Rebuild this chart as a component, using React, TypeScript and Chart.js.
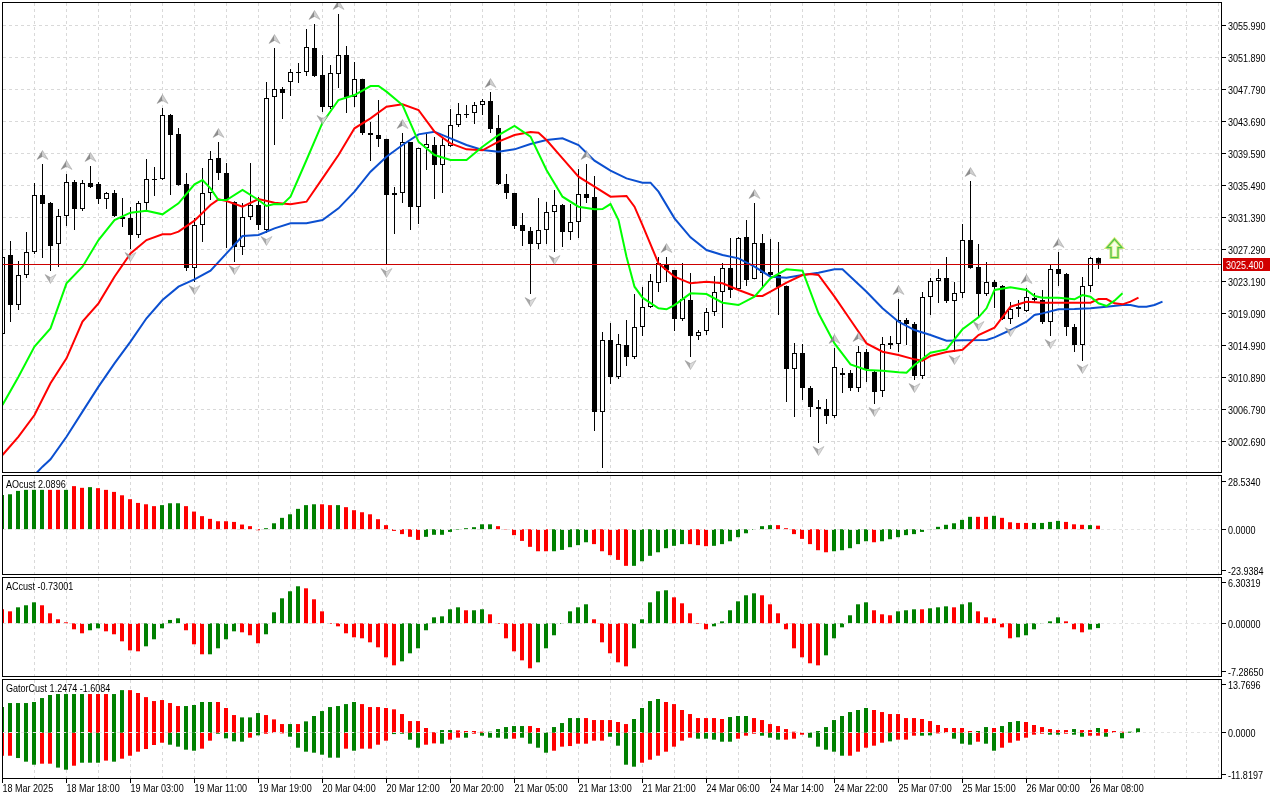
import React, { useEffect, useRef } from "react";
import { Chart, registerables } from "chart.js";

Chart.register(...registerables);

// ---------------- DATA ----------------
const timeLabels = [
  "18 Mar 2025", "18 Mar 18:00", "19 Mar 03:00", "19 Mar 11:00", "19 Mar 19:00", "20 Mar 04:00",
  "20 Mar 12:00", "20 Mar 20:00", "21 Mar 05:00", "21 Mar 13:00", "21 Mar 21:00", "24 Mar 06:00",
  "24 Mar 14:00", "24 Mar 22:00", "25 Mar 07:00", "25 Mar 15:00", "26 Mar 00:00", "26 Mar 08:00",
];
const timeLabelStep = 8;

const priceTicks = [3055.99, 3051.89, 3047.79, 3043.69, 3039.59, 3035.49, 3031.39, 3027.29, 3023.19, 3019.09, 3014.99, 3010.89, 3006.79, 3002.69];
const lastPrice = 3025.4;

const opens = [
  3016.40, 3026.52, 3020.11, 3023.96, 3026.90, 3034.21, 3033.18, 3027.93, 3031.52, 3035.87,
  3032.41, 3035.74, 3035.62, 3033.69, 3034.46, 3031.39, 3031.26, 3029.08, 3033.18, 3036.26,
  3036.26, 3044.46, 3042.02, 3035.62, 3024.85, 3030.36, 3034.46, 3038.95, 3037.03, 3033.31,
  3027.54, 3031.39, 3032.93, 3029.72, 3046.76, 3047.79, 3048.68, 3049.85, 3049.97, 3053.04,
  3049.58, 3045.48, 3049.71, 3052.14, 3046.76, 3049.07, 3042.15, 3041.89, 3041.38, 3034.21,
  3034.46, 3041.00, 3032.67, 3040.23, 3040.61, 3038.05, 3040.49, 3043.18, 3044.46, 3044.71,
  3045.74, 3046.25, 3042.79, 3035.62, 3034.46, 3030.36, 3029.59, 3027.93, 3029.72, 3032.03,
  3032.93, 3029.47, 3030.75, 3034.34, 3033.95, 3006.40, 3015.63, 3010.89, 3014.99, 3013.45,
  3017.30, 3019.86, 3022.93, 3025.37, 3024.60, 3018.32, 3020.75, 3016.14, 3016.78, 3019.22,
  3021.78, 3024.85, 3022.16, 3028.83, 3023.45, 3028.06, 3024.34, 3023.96, 3022.55, 3011.91,
  3013.96, 3009.48, 3007.05, 3006.79, 3005.89, 3011.40, 3011.40, 3009.48, 3014.09, 3011.53,
  3009.10, 3015.25, 3015.12, 3018.19, 3017.68, 3011.02, 3021.14, 3023.19, 3023.57, 3020.63,
  3021.65, 3028.44, 3024.98, 3021.52, 3023.06, 3022.55, 3018.32, 3019.60, 3019.35, 3021.01,
  3020.75, 3017.94, 3024.73, 3024.09, 3017.30, 3014.99, 3022.55, 3026.14,
];
const highs = [
  3026.78, 3028.31, 3025.75, 3029.47, 3035.74, 3038.18, 3033.30, 3032.41, 3036.90, 3036.13,
  3036.13, 3037.92, 3035.87, 3034.59, 3034.85, 3033.82, 3032.67, 3033.44, 3038.82, 3037.79,
  3045.35, 3044.58, 3042.79, 3037.03, 3031.26, 3037.67, 3039.84, 3041.00, 3038.31, 3033.40,
  3033.18, 3038.31, 3033.95, 3048.68, 3053.04, 3048.04, 3050.35, 3051.12, 3055.47, 3056.12,
  3052.14, 3050.86, 3057.40, 3053.30, 3051.25, 3049.10, 3043.56, 3046.38, 3041.40, 3035.23,
  3042.15, 3041.00, 3040.25, 3042.15, 3041.64, 3041.51, 3045.22, 3045.99, 3045.74, 3046.12,
  3046.51, 3047.40, 3044.46, 3036.90, 3034.50, 3031.90, 3030.11, 3033.82, 3033.31, 3034.85,
  3033.05, 3033.05, 3037.54, 3038.18, 3036.64, 3016.65, 3017.81, 3016.40, 3018.19, 3021.52,
  3022.42, 3024.09, 3026.26, 3026.26, 3024.60, 3025.49, 3024.21, 3016.91, 3019.73, 3023.83,
  3025.49, 3028.70, 3028.83, 3031.00, 3033.18, 3029.21, 3028.57, 3028.19, 3022.60, 3015.25,
  3015.12, 3009.73, 3007.94, 3008.07, 3014.60, 3012.04, 3011.78, 3014.86, 3014.47, 3011.66,
  3016.01, 3016.14, 3020.88, 3018.45, 3017.94, 3021.78, 3023.57, 3024.73, 3026.26, 3023.06,
  3030.49, 3036.00, 3027.93, 3025.62, 3023.32, 3022.68, 3020.50, 3020.75, 3022.29, 3021.65,
  3022.04, 3025.24, 3026.90, 3024.21, 3017.68, 3023.70, 3026.26, 3026.20,
];
const lows = [
  3016.01, 3017.94, 3019.47, 3023.57, 3026.65, 3026.14, 3024.47, 3024.98, 3030.23, 3029.72,
  3032.16, 3035.10, 3033.05, 3032.41, 3031.39, 3030.11, 3027.29, 3028.70, 3032.29, 3034.08,
  3036.13, 3034.21, 3035.40, 3024.47, 3023.06, 3028.19, 3033.57, 3036.13, 3027.42, 3025.62,
  3026.52, 3031.00, 3029.72, 3029.34, 3040.61, 3043.94, 3046.89, 3048.56, 3049.45, 3049.32,
  3044.84, 3045.22, 3047.92, 3044.71, 3045.48, 3041.89, 3038.56, 3040.36, 3025.24, 3029.21,
  3033.18, 3029.72, 3030.49, 3037.41, 3033.69, 3034.46, 3040.36, 3042.92, 3044.07, 3043.30,
  3044.46, 3042.15, 3035.49, 3033.69, 3029.85, 3027.67, 3021.52, 3027.29, 3027.93, 3026.90,
  3027.54, 3028.44, 3028.70, 3033.18, 3003.97, 2999.23, 3009.99, 3010.63, 3012.30, 3013.19,
  3016.14, 3019.73, 3021.78, 3023.06, 3016.78, 3018.07, 3013.45, 3015.63, 3016.27, 3018.70,
  3017.17, 3021.01, 3022.04, 3022.55, 3023.40, 3022.29, 3023.57, 3018.83, 3007.69, 3005.76,
  3007.94, 3005.76, 3002.43, 3004.87, 3005.63, 3008.84, 3009.10, 3008.97, 3010.25, 3007.43,
  3008.33, 3014.47, 3014.09, 3014.99, 3010.50, 3010.63, 3018.83, 3020.37, 3020.37, 3014.09,
  3021.01, 3024.75, 3018.45, 3021.27, 3019.73, 3018.19, 3017.68, 3018.58, 3019.22, 3020.37,
  3017.68, 3016.14, 3022.55, 3016.14, 3014.09, 3012.94, 3021.78, 3024.73,
];
const closes = [
  3026.26, 3020.11, 3023.96, 3026.90, 3034.21, 3033.05, 3027.67, 3031.52, 3035.87, 3032.41,
  3035.74, 3035.23, 3033.69, 3034.46, 3031.52, 3031.13, 3029.08, 3033.18, 3036.26, 3036.13,
  3044.46, 3041.89, 3035.49, 3024.85, 3030.36, 3034.46, 3038.82, 3037.03, 3033.69, 3027.54,
  3031.39, 3032.93, 3030.36, 3046.63, 3047.79, 3047.27, 3049.97, 3049.97, 3053.17, 3049.45,
  3045.48, 3049.84, 3052.14, 3046.76, 3049.07, 3042.15, 3041.89, 3041.38, 3034.21, 3034.46,
  3041.00, 3032.67, 3040.23, 3040.74, 3038.05, 3040.61, 3043.18, 3044.58, 3044.58, 3045.74,
  3046.25, 3042.66, 3035.62, 3034.46, 3030.23, 3029.59, 3027.93, 3029.72, 3032.03, 3032.93,
  3029.47, 3030.75, 3034.34, 3033.82, 3006.40, 3015.63, 3010.89, 3015.12, 3013.45, 3017.30,
  3019.86, 3023.19, 3025.49, 3024.60, 3018.32, 3020.88, 3016.14, 3016.65, 3019.22, 3021.78,
  3024.85, 3022.04, 3028.70, 3023.32, 3028.06, 3024.21, 3023.96, 3022.42, 3011.91, 3013.96,
  3009.48, 3007.05, 3006.79, 3005.89, 3012.17, 3011.14, 3009.48, 3014.09, 3011.91, 3008.97,
  3015.12, 3014.99, 3018.19, 3017.68, 3011.02, 3021.14, 3023.19, 3023.57, 3020.63, 3021.65,
  3028.44, 3024.85, 3021.52, 3023.06, 3022.42, 3018.32, 3019.60, 3019.86, 3021.14, 3020.75,
  3017.94, 3024.73, 3024.09, 3017.30, 3014.99, 3022.55, 3026.14, 3025.40,
];

// Alligator lines: [bar index (shifted), price]
const lipsPoints = [
  [0, 3007.30], [2, 3010.93], [4, 3014.78], [6, 3017.12], [8, 3022.89], [10, 3025.02], [12, 3028.44], [14, 3031.00],
  [16, 3031.94], [18, 3032.20], [20, 3031.73], [22, 3033.14], [24, 3035.57], [25, 3036.13], [26, 3035.06], [27, 3033.57],
  [28, 3033.57], [30, 3034.85], [32, 3033.57], [33, 3032.80], [34, 3033.05], [35, 3033.01], [36, 3033.99], [38, 3038.69],
  [40, 3043.47], [42, 3046.38], [44, 3047.02], [46, 3048.17], [47, 3048.17], [48, 3047.45], [50, 3045.74], [52, 3041.04],
  [54, 3039.33], [56, 3038.69], [58, 3038.69], [60, 3040.40], [62, 3041.89], [64, 3043.05], [66, 3041.68], [68, 3037.41],
  [70, 3033.99], [72, 3032.71], [74, 3032.37], [75, 3032.41], [76, 3033.05], [77, 3031.00], [78, 3026.31], [79, 3022.46],
  [80, 3021.05], [82, 3019.69], [83, 3019.56], [84, 3020.11], [86, 3021.61], [88, 3021.52], [90, 3020.41], [92, 3020.11],
  [94, 3021.18], [96, 3023.53], [98, 3024.68], [100, 3024.51], [102, 3019.05], [104, 3015.20], [106, 3012.51], [108, 3011.79],
  [110, 3011.70], [112, 3011.49], [113, 3011.44], [114, 3012.43], [116, 3014.01], [118, 3014.43], [120, 3017.00], [122, 3018.53],
  [123, 3019.69], [124, 3022.04], [126, 3022.38], [128, 3022.04], [129, 3021.27], [130, 3021.05], [132, 3021.05], [134, 3020.84],
  [135, 3021.39], [136, 3021.18], [137, 3020.33], [138, 3019.99], [139, 3020.67], [140, 3021.61],
];
const teethPoints = [
  [0, 3000.90], [2, 3003.24], [4, 3006.02], [6, 3010.08], [8, 3013.28], [10, 3017.98], [12, 3020.33], [14, 3023.74],
  [16, 3026.73], [18, 3028.44], [20, 3029.17], [21, 3029.17], [22, 3029.51], [24, 3030.92], [26, 3032.93], [27, 3033.65],
  [28, 3033.44], [30, 3032.71], [32, 3033.69], [34, 3033.22], [36, 3033.01], [38, 3033.35], [40, 3036.34], [42, 3039.33],
  [44, 3042.75], [46, 3044.03], [48, 3045.52], [50, 3045.82], [52, 3045.10], [54, 3042.32], [56, 3040.83], [58, 3040.06],
  [60, 3039.93], [62, 3041.04], [64, 3041.89], [66, 3042.28], [67, 3042.19], [68, 3041.25], [70, 3038.90], [72, 3036.56],
  [74, 3035.27], [76, 3033.99], [78, 3034.08], [79, 3032.71], [80, 3030.36], [82, 3025.45], [84, 3023.74], [86, 3022.89],
  [88, 3023.10], [90, 3022.89], [92, 3022.04], [94, 3021.27], [95, 3021.27], [96, 3021.82], [98, 3022.97], [100, 3023.96],
  [101, 3024.09], [102, 3023.96], [104, 3021.18], [106, 3018.19], [108, 3015.20], [110, 3014.13], [112, 3013.71], [114, 3013.15],
  [115, 3012.98], [116, 3013.58], [118, 3014.09], [120, 3014.39], [122, 3016.27], [124, 3017.21], [126, 3019.90], [128, 3020.54],
  [130, 3020.41], [136, 3020.41], [137, 3020.88], [138, 3020.88], [139, 3020.33], [140, 3020.20], [141, 3020.54], [142, 3021.05],
];
const jawPoints = [
  [4, 2998.33], [5, 2999.40], [6, 3000.34], [8, 3003.24], [10, 3006.45], [12, 3009.65], [14, 3012.64], [16, 3015.42],
  [18, 3018.41], [20, 3020.75], [22, 3022.46], [24, 3023.40], [26, 3024.51], [28, 3026.73], [30, 3028.95], [32, 3029.08],
  [34, 3029.94], [36, 3030.58], [38, 3030.58], [40, 3031.00], [42, 3032.50], [44, 3034.63], [46, 3037.20], [48, 3039.12],
  [50, 3040.61], [52, 3041.98], [54, 3042.32], [56, 3041.47], [58, 3040.61], [60, 3039.97], [62, 3039.76], [64, 3040.06],
  [66, 3040.74], [68, 3041.25], [70, 3041.47], [72, 3040.61], [74, 3038.61], [76, 3037.32], [78, 3036.34], [80, 3035.79],
  [81, 3035.79], [82, 3034.63], [84, 3031.22], [86, 3028.78], [88, 3027.16], [90, 3026.52], [92, 3026.09], [94, 3025.02],
  [96, 3023.74], [98, 3023.62], [100, 3023.96], [102, 3024.26], [104, 3024.68], [105, 3024.68], [106, 3023.74], [108, 3021.82],
  [110, 3019.69], [112, 3017.98], [114, 3016.91], [116, 3016.27], [118, 3015.54], [120, 3015.59], [123, 3015.63], [124, 3015.97],
  [126, 3016.91], [128, 3017.98], [129, 3018.83], [130, 3019.04], [132, 3019.56], [134, 3019.60], [136, 3019.69], [138, 3019.90],
  [140, 3020.11], [141, 3020.11], [142, 3019.90], [143, 3019.90], [144, 3020.11], [145, 3020.54],
];

const fractalUpBars = [5, 8, 11, 20, 27, 34, 39, 42, 50, 61, 73, 83, 94, 104, 107, 112, 121, 128, 132];
const fractalDownBars = [6, 16, 24, 29, 33, 40, 48, 66, 69, 75, 86, 102, 109, 114, 119, 122, 126, 131, 135];
const signalArrow = { bar: 139, price: 3027.35 };

const aoTitle = "AOcust 2.0896";
const aoTicks = [28.534, 0, -23.9384];
const aoValues = [
  20.2, 20.6, 22.6, 23.2, 23.2, 23.2, 23.2, 23.2, 23.2, 25.4,
  24.4, 24.8, 24.2, 23.2, 22.0, 20.0, 17.7, 15.5, 14.7, 13.6,
  14.2, 15.3, 15.3, 13.6, 10.4, 7.7, 6.1, 4.7, 4.7, 4.3,
  2.75, 1.8, -0.6, 0.6, 3.5, 6.7, 8.8, 12.0, 14.2, 14.7,
  14.7, 14.2, 14.2, 13.0, 11.2, 10.0, 8.8, 5.9, 2.4, -1.0,
  -2.9, -4.5, -6.3, -4.5, -3.3, -3.3, -1.6, -0.3, 0.6, 1.2,
  2.9, 2.9, 1.8, -0.2, -3.5, -6.9, -10.4, -13.0, -13.0, -13.0,
  -12.2, -10.6, -9.4, -7.7, -8.8, -13.0, -15.3, -18.1, -21.6, -21.6,
  -18.9, -15.7, -13.6, -11.2, -9.8, -8.8, -8.8, -9.4, -10.0, -9.8,
  -8.8, -7.1, -4.7, -2.4, -0.4, 1.8, 2.4, 2.4, 0.6, -2.9,
  -5.7, -8.8, -12.4, -13.6, -13.0, -12.4, -11.2, -8.8, -7.1, -7.7,
  -7.1, -5.9, -4.7, -3.5, -2.9, -1.6, -0.2, 1.4, 2.6, 3.5,
  5.5, 7.3, 7.3, 7.3, 7.9, 6.7, 4.1, 3.7, 3.7, 3.7,
  3.7, 4.3, 4.9, 4.3, 2.9, 2.6, 2.4, 2.09,
];
const aoColors = "ggggggrrgr" + "rgrrrrrrrr" + "gggrrrrrrr" + "rrrggggggg" + "rrgrrrrrrr" + "rrrggggggg" + "ggrrrrrrrg" +
  "ggggrrrrrg" + "ggggggrrrg" + "gggggggrrr" + "rrrrgggggr" + "gggggggggg" + "ggrrgrrrrg" + "gggrrrgr";

const acTitle = "ACcust -0.73001";
const acTicks = [6.30319, 0, -7.2865];
const acValues = [
  2.13, 1.82, 2.43, 2.74, 3.19, 2.74, 1.52, 0.61, 0.15, -0.91,
  -1.52, -1.06, -0.76, -1.22, -1.67, -2.74, -4.11, -4.26, -3.50, -2.43,
  -0.76, 0.51, 0.76, -1.06, -3.19, -4.71, -4.71, -3.80, -2.43, -1.22,
  -1.37, -1.82, -3.04, -1.67, 1.67, 3.80, 4.87, 5.63, 5.32, 3.65,
  1.82, -0.1, -0.46, -1.52, -2.13, -2.28, -2.89, -3.65, -5.17, -6.39,
  -5.78, -4.56, -3.80, -1.06, 0.91, 1.06, 2.13, 2.43, 1.98, 1.98,
  2.13, 1.37, -0.1, -2.28, -4.26, -5.63, -6.84, -5.93, -3.80, -1.82,
  -0.1, 1.82, 2.43, 2.89, 0.61, -2.89, -4.56, -5.93, -6.54, -3.80,
  0.61, 3.19, 4.87, 5.02, 3.95, 3.04, 1.52, -0.1, -0.91, -0.46,
  0.30, 1.98, 3.34, 4.26, 4.56, 4.26, 2.89, 1.52, -0.91, -3.80,
  -5.17, -6.08, -6.39, -4.87, -2.28, -0.61, 1.22, 2.89, 3.19, 1.98,
  1.37, 1.22, 1.82, 1.98, 2.13, 2.13, 2.28, 2.43, 2.58, 2.43,
  2.89, 3.19, 1.82, 0.91, 0.76, -0.61, -2.28, -2.13, -1.82, -0.91,
  0.05, 0.30, 0.91, 0.30, -0.91, -1.37, -0.95, -0.73,
];
const acColors = "rrgggrrrrr" + "rggrrrrrgg" + "gggrrrgggg" + "rrrgggggrr" + "rrrrrrrrrr" + "ggggggggrg" + "grrrrrrggg" +
  "ggggrrrrrg" + "ggggrrrrrg" + "gggggrrrrr" + "rrrggggggr" + "rrgggrgggr" + "ggrrrrrggg" + "gggrrrgg";

const gatorTitle = "GatorCust 1.2474 -1.6084";
const gatorTicks = [13.7696, 0, -11.8197];
const gatorUp = [
  7.35, 8.5, 8.5, 8.5, 8.8, 9.93, 10.8, 11.08, 11.08, 11.08,
  11.08, 11.08, 11.08, 11.08, 11.08, 12.2, 12.2, 11.37, 10.2, 9.07,
  9.36, 8.5, 7.64, 7.64, 7.93, 8.8, 8.8, 8.8, 7.07, 5.06,
  4.39, 4.39, 5.63, 5.06, 3.82, 2.48, 2.48, 2.48, 3.25, 4.78,
  6.2, 7.35, 7.64, 8.2, 8.8, 8.2, 7.35, 7.35, 7.07, 6.7,
  5.35, 3.34, 3.34, 1.34, 0.2, 0.76, 0.76, 0.67, 0.48, 0.48,
  0.29, 0.29, 1.05, 1.62, 1.91, 1.91, 1.91, 1.34, 0.1, 1.62,
  2.77, 4.2, 4.2, 4.2, 3.63, 3.63, 3.63, 3.06, 2.48, 3.92,
  7.07, 9.07, 9.65, 8.8, 8.2, 6.5, 5.35, 4.2, 4.2, 4.2,
  3.92, 4.49, 4.78, 4.78, 4.2, 3.63, 2.48, 1.91, 1.05, 0.29,
  0.05, 0.05, 0.48, 1.62, 3.63, 4.78, 5.92, 6.5, 7.07, 6.5,
  5.92, 5.35, 5.35, 4.2, 4.2, 3.92, 3.34, 2.2, 1.34, 1.34,
  1.34, 0.48, 0.48, 1.62, 1.34, 1.91, 3.06, 3.34, 3.06, 2.2,
  1.62, 1.05, 0.76, 0.76, 1.05, 0.76, 0.76, 1.34, 1.05, 0.48,
  0.29, 0.29, 1.2474,
];
const gatorUpColors = "gggggggggg" + "grrrggrrrr" + "rrrggggrrr" + "gggrrrgrgg" + "gggggrrrrr" + "rrrrrggrrr" + "rgggggrrgg" +
  "gggrrrrrrg" + "gggrrrrrrr" + "rgggrrrrrr" + "rggggggggr" + "rrrrrrrrrr" + "rrggrgggrr" + "rrrrgrrgrr" + "rgg";
const gatorDown = [
  -6.6, -6.6, -7.26, -8.3, -9.17, -8.88, -8.88, -10.0, -10.6, -9.46,
  -8.6, -8.6, -8.6, -8.0, -8.3, -7.45, -6.6, -5.44, -4.68, -3.53,
  -2.87, -3.44, -4.0, -4.87, -5.16, -4.58, -2.29, -0.3, -1.62, -2.48,
  -2.58, -1.43, -0.76, -0.3, -0.1, -0.2, -1.15, -4.3, -5.44, -5.73,
  -6.3, -7.16, -7.16, -4.58, -5.16, -4.58, -4.58, -3.44, -2.29, -0.4,
  -0.3, -2.0, -4.3, -3.44, -3.06, -3.15, -2.0, -1.43, -1.43, -0.29,
  -0.86, -1.43, -1.43, -1.72, -1.72, -1.43, -3.15, -4.3, -5.73, -5.16,
  -4.0, -3.82, -3.15, -3.15, -2.29, -2.29, -1.15, -3.72, -9.17, -9.74,
  -8.6, -7.74, -6.59, -5.44, -4.0, -2.29, -1.43, -1.72, -1.72, -2.0,
  -2.58, -2.58, -1.72, -0.86, -0.29, -0.86, -1.43, -2.0, -2.0, -1.72,
  -0.57, -1.43, -4.0, -4.87, -5.44, -6.59, -6.59, -5.44, -4.3, -3.72,
  -2.87, -2.48, -2.0, -2.0, -0.86, -0.86, -0.76, -0.2, -0.1, -1.72,
  -3.15, -3.44, -2.58, -3.15, -5.16, -4.3, -2.87, -2.29, -1.43, -0.57,
  -0.29, -0.57, -0.57, -0.29, -0.57, -1.15, -0.86, -0.86, -1.15, 0,
  -1.6084,
];
const gatorDownColors = "rrgggrrggr" + "gggrgrrrrr" + "rggggrrggg" + "grgrrrgggg" + "gggrgrrrrg" + "gggrrgrrgr" + "ggggrggggr" +
  "rrrrrrgggg" + "rrrrrrrggg" + "ggrrrgggrr" + "rgggggrrrr" + "rgrrrggrgg" + "ggrggrrrrr" + "rggrggrrgg" + "g";

// ---------------- STYLE ----------------
const GREEN = "#008000";
const RED = "#ff0000";
const GRID = "#d9d9d9";
const AXIS_W = 58;
const SLOTS = 152.5; // bar slots visible across the plot
const UI_FONT = '11px "Liberation Sans", Arimo, sans-serif';
const NARROW = 0.82; // horizontal squeeze to imitate the terminal's compact UI font

function text(ctx: CanvasRenderingContext2D, s: string, x: number, y: number) {
  ctx.save();
  ctx.font = UI_FONT;
  ctx.textAlign = "left";
  ctx.textBaseline = "alphabetic";
  ctx.translate(x, y);
  ctx.scale(NARROW, 1);
  ctx.fillText(s, 0, 0);
  ctx.restore();
}

const snap = (v: number) => Math.floor(v + 0.25) + 0.5;

function drawFrame(chart: any) {
  const { ctx, chartArea: ca } = chart;
  ctx.save();
  ctx.strokeStyle = "#000";
  ctx.lineWidth = 1;
  ctx.setLineDash([]);
  ctx.strokeRect(ca.left + 0.5, ca.top + 0.5, ca.right - ca.left - 1, ca.bottom - ca.top - 1);
  ctx.restore();
}

function drawVGrid(chart: any) {
  const { ctx, chartArea: ca, scales } = chart;
  const x = scales.x;
  ctx.save();
  ctx.strokeStyle = GRID;
  ctx.lineWidth = 1;
  ctx.setLineDash([3, 3]);
  ctx.beginPath();
  for (let i = 4; i <= 152; i += 4) {
    const px = snap(x.getPixelForValue(i));
    if (px > ca.right - 1) break;
    ctx.moveTo(px, ca.top + 1);
    ctx.lineTo(px, ca.bottom - 1);
  }
  ctx.stroke();
  ctx.restore();
}

function drawRightTicks(chart: any, ticks: number[], decimals: number) {
  const { ctx, chartArea: ca, scales } = chart;
  const y = scales.y;
  ctx.save();
  ctx.fillStyle = "#000";
  ctx.strokeStyle = "#000";
  ctx.lineWidth = 1;
  for (const t of ticks) {
    const py = snap(y.getPixelForValue(t));
    ctx.beginPath();
    ctx.moveTo(ca.right, py);
    ctx.lineTo(ca.right + 4, py);
    ctx.stroke();
    text(ctx, t.toFixed(decimals), ca.right + 6, py + 4);
  }
  ctx.restore();
}

function drawFractal(ctx: CanvasRenderingContext2D, cx: number, cy: number, up: boolean) {
  const s = up ? 1 : -1;
  const tip: [number, number] = [cx, cy - 4.5 * s];
  const left: [number, number] = [cx - 5.5, cy + 4.5 * s];
  const right: [number, number] = [cx + 5.5, cy + 4.5 * s];
  const notch: [number, number] = [cx, cy + 1.5 * s];
  ctx.beginPath();
  ctx.moveTo(...tip); ctx.lineTo(...notch); ctx.lineTo(...left); ctx.closePath();
  ctx.fillStyle = up ? "#8d8d8d" : "#a8a8a8";
  ctx.fill();
  ctx.beginPath();
  ctx.moveTo(...tip); ctx.lineTo(...right); ctx.lineTo(...notch); ctx.closePath();
  ctx.fillStyle = up ? "#cfcfcf" : "#dadada";
  ctx.fill();
  ctx.beginPath();
  ctx.moveTo(...tip); ctx.lineTo(...right); ctx.lineTo(...notch); ctx.lineTo(...left); ctx.closePath();
  ctx.strokeStyle = "rgba(120,120,120,0.55)";
  ctx.lineWidth = 0.6;
  ctx.stroke();
}

const mainPlugin = {
  id: "mainDeco",
  beforeDatasetsDraw(chart: any) {
    const { ctx, chartArea: ca, scales } = chart;
    drawVGrid(chart);
    ctx.save();
    ctx.strokeStyle = GRID;
    ctx.lineWidth = 1;
    ctx.setLineDash([3, 3]);
    ctx.beginPath();
    for (const p of priceTicks) {
      const py = snap(scales.y.getPixelForValue(p));
      ctx.moveTo(ca.left + 1, py);
      ctx.lineTo(ca.right - 1, py);
    }
    ctx.stroke();
    ctx.restore();
  },
  afterDatasetsDraw(chart: any) {
    const { ctx, chartArea: ca, scales } = chart;
    const { x, y } = scales;
    ctx.save();
    ctx.beginPath();
    ctx.rect(ca.left, ca.top, ca.right - ca.left, ca.bottom - ca.top);
    ctx.clip();
    const lp = snap(y.getPixelForValue(lastPrice));
    ctx.strokeStyle = "#cc0000";
    ctx.lineWidth = 1;
    ctx.beginPath();
    ctx.moveTo(ca.left, lp);
    ctx.lineTo(ca.right, lp);
    ctx.stroke();
    for (const i of fractalUpBars) {
      drawFractal(ctx, Math.floor(x.getPixelForValue(i)) + 0.5, y.getPixelForValue(highs[i]) - 9, true);
    }
    for (const i of fractalDownBars) {
      drawFractal(ctx, Math.floor(x.getPixelForValue(i)) + 0.5, y.getPixelForValue(lows[i]) + 8, false);
    }
    const cx = Math.floor(x.getPixelForValue(signalArrow.bar)) + 0.5;
    const cy = y.getPixelForValue(signalArrow.price);
    ctx.beginPath();
    ctx.moveTo(cx, cy - 9.5);
    ctx.lineTo(cx + 7.5, cy - 1);
    ctx.lineTo(cx + 3.5, cy - 1);
    ctx.lineTo(cx + 3.5, cy + 9);
    ctx.lineTo(cx - 3.5, cy + 9);
    ctx.lineTo(cx - 3.5, cy - 1);
    ctx.lineTo(cx - 7.5, cy - 1);
    ctx.closePath();
    ctx.fillStyle = "#f6ffe8";
    ctx.fill();
    ctx.strokeStyle = "#d8ec7a";
    ctx.lineWidth = 3;
    ctx.stroke();
    ctx.strokeStyle = "#4cc24c";
    ctx.lineWidth = 1.2;
    ctx.stroke();
    ctx.restore();
  },
  afterDraw(chart: any) {
    const { ctx, chartArea: ca, scales } = chart;
    drawFrame(chart);
    drawRightTicks(chart, priceTicks, 3);
    const lp = snap(scales.y.getPixelForValue(lastPrice));
    ctx.save();
    ctx.fillStyle = "#d10000";
    ctx.fillRect(ca.right + 1, lp - 6.5, 47, 13);
    ctx.fillStyle = "#ffffff";
    text(ctx, lastPrice.toFixed(3), ca.right + 4, lp + 4);
    ctx.restore();
  },
};

function subPlugin(title: string, ticks: number[], decimals: number, withTime: boolean) {
  return {
    id: "subDeco",
    beforeDatasetsDraw(chart: any) {
      drawVGrid(chart);
    },
    afterDatasetsDraw(chart: any) {
      const { ctx, chartArea: ca, scales } = chart;
      const zy = snap(scales.y.getPixelForValue(0));
      ctx.save();
      ctx.strokeStyle = "#e2e2e2";
      ctx.lineWidth = 1;
      ctx.setLineDash([3, 3]);
      ctx.beginPath();
      ctx.moveTo(ca.left + 1, zy);
      ctx.lineTo(ca.right - 1, zy);
      ctx.stroke();
      ctx.restore();
    },
    afterDraw(chart: any) {
      const { ctx, chartArea: ca, scales } = chart;
      drawFrame(chart);
      drawRightTicks(chart, ticks, decimals);
      ctx.save();
      ctx.fillStyle = "#000";
      text(ctx, title, ca.left + 4, ca.top + 13);
      if (withTime) {
        ctx.strokeStyle = "#000";
        ctx.lineWidth = 1;
        timeLabels.forEach((lab, k) => {
          const px = Math.floor(scales.x.getPixelForValue(k * timeLabelStep) + 0.25) + 0.5;
          ctx.beginPath();
          ctx.moveTo(px, ca.bottom);
          ctx.lineTo(px, ca.bottom + 4);
          ctx.stroke();
          text(ctx, lab, px, ca.bottom + 13);
        });
      }
      ctx.restore();
    },
  };
}

const baseOptions = (padTop: number, padBottom: number, xMin: number, yMin: number, yMax: number) => ({
  responsive: false,
  animation: false as const,
  events: [] as any[],
  layout: { padding: { left: 2, right: AXIS_W, top: padTop, bottom: padBottom } },
  scales: {
    x: { type: "linear" as const, display: false, min: xMin, max: xMin + SLOTS, offset: false },
    y: { type: "linear" as const, display: false, min: yMin, max: yMax },
  },
  plugins: { legend: { display: false }, tooltip: { enabled: false } },
});

function mainConfig(): any {
  const linePts = (pts: number[][]) => pts.map(([x, y]) => ({ x, y }));
  return {
    type: "bar",
    data: {
      datasets: [
        { type: "line", data: linePts(lipsPoints), borderColor: "#00ff00", borderWidth: 2, pointRadius: 0, tension: 0, order: 0 },
        { type: "line", data: linePts(teethPoints), borderColor: "#ff0000", borderWidth: 2, pointRadius: 0, tension: 0, order: 0 },
        { type: "line", data: linePts(jawPoints), borderColor: "#0b4fd0", borderWidth: 2, pointRadius: 0, tension: 0, order: 0 },
        {
          type: "bar",
          data: opens.map((o, i) => ({ x: i, y: [o, closes[i]] })),
          backgroundColor: opens.map((o, i) => (closes[i] >= o ? "#ffffff" : "#000000")),
          borderColor: "#000000",
          borderWidth: 1,
          borderSkipped: false,
          barThickness: 5,
          grouped: false,
          minBarLength: 1,
          inflateAmount: 0,
          order: 1,
        },
        {
          type: "bar",
          data: highs.map((h, i) => ({ x: i, y: [lows[i], h] })),
          backgroundColor: "#000000",
          borderWidth: 0,
          barThickness: 1,
          grouped: false,
          inflateAmount: 0,
          order: 2,
        },
      ],
    },
    options: baseOptions(2, 2, -0.0625, 2998.5899, 3058.93688),
    plugins: [mainPlugin],
  };
}

function histConfig(series: { values: number[]; colors: string }[], yMin: number, yMax: number, padBottom: number, plugin: any): any {
  return {
    type: "bar",
    data: {
      datasets: series.map((s) => ({
        data: s.values.map((v, i) => ({ x: i, y: v })),
        backgroundColor: s.values.map((_, i) => (s.colors[i] === "g" ? GREEN : RED)),
        borderWidth: 0,
        barThickness: 4,
        grouped: false,
        inflateAmount: 0,
      })),
    },
    options: baseOptions(1, padBottom, 0, yMin, yMax),
    plugins: [plugin],
  };
}

export default function App() {
  const mainRef = useRef<HTMLCanvasElement>(null);
  const aoRef = useRef<HTMLCanvasElement>(null);
  const acRef = useRef<HTMLCanvasElement>(null);
  const gatorRef = useRef<HTMLCanvasElement>(null);

  useEffect(() => {
    const charts: Chart[] = [];
    charts.push(new Chart(mainRef.current!, mainConfig()));
    charts.push(new Chart(aoRef.current!, histConfig([{ values: aoValues, colors: aoColors }], -27.0, 31.96, 1, subPlugin(aoTitle, aoTicks, 4, false))));
    charts.push(new Chart(acRef.current!, histConfig([{ values: acValues, colors: acColors }], -8.162, 7.038, 1, subPlugin(acTitle, acTicks, 5, false))));
    charts.push(
      new Chart(
        gatorRef.current!,
        histConfig(
          [
            { values: gatorUp, colors: gatorUpColors },
            { values: gatorDown, colors: gatorDownColors },
          ],
          -13.266,
          15.387,
          21,
          subPlugin(gatorTitle, gatorTicks, 4, true)
        )
      )
    );
    return () => charts.forEach((c) => c.destroy());
  }, []);

  const abs = (top: number, height: number): React.CSSProperties => ({ position: "absolute", left: 0, top, width: 1280, height });
  return (
    <div style={{ position: "absolute", left: 0, top: 0, width: 1280, height: 800, background: "#ffffff", overflow: "hidden" }}>
      <div style={abs(0, 475)}>
        <canvas ref={mainRef} width={1280} height={475} style={{ display: "block" }} />
      </div>
      <div style={abs(474, 102)}>
        <canvas ref={aoRef} width={1280} height={102} style={{ display: "block" }} />
      </div>
      <div style={abs(576, 102)}>
        <canvas ref={acRef} width={1280} height={102} style={{ display: "block" }} />
      </div>
      <div style={abs(678, 122)}>
        <canvas ref={gatorRef} width={1280} height={122} style={{ display: "block" }} />
      </div>
    </div>
  );
}
